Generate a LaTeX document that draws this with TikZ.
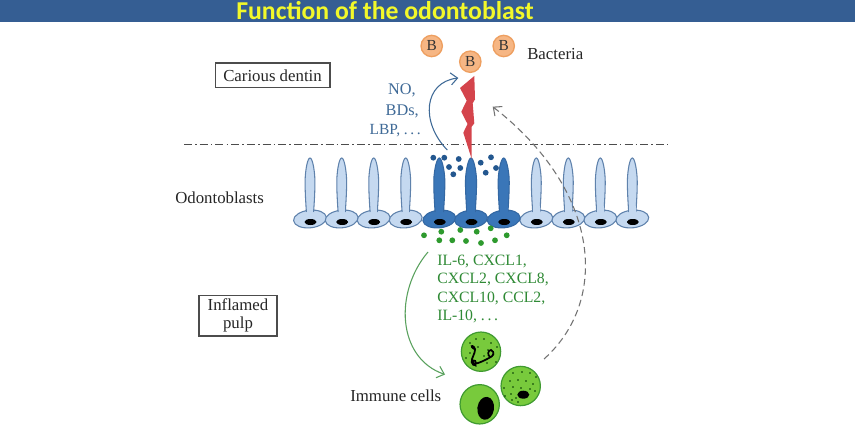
\documentclass[tikz,border=0pt]{standalone}
\usepackage{fontspec}
\setmainfont{Liberation Serif}
\newfontfamily\titlefont{Carlito}
\usetikzlibrary{arrows.meta}
\definecolor{barblue}{HTML}{355E93}
\definecolor{titleyellow}{HTML}{F2F82A}
\definecolor{lightcell}{HTML}{C5D9F0}
\definecolor{lightedge}{HTML}{5F82AC}
\definecolor{darkcell}{HTML}{3A76B8}
\definecolor{darkedge}{HTML}{3468A3}
\definecolor{navydot}{HTML}{23578F}
\definecolor{greendot}{HTML}{2E9A2E}
\definecolor{bluetext}{HTML}{3F6A97}
\definecolor{greentext}{HTML}{2F8A35}
\definecolor{bactfill}{HTML}{F6B684}
\definecolor{bactedge}{HTML}{EE9F60}
\definecolor{bolt}{HTML}{D4444C}
\definecolor{immune}{HTML}{78CA3C}
\definecolor{immuneedge}{HTML}{3F9A30}
\tikzset{
  x=0.75pt, y=-0.75pt,
  label text/.style={font=\fontsize{12.6pt}{14pt}\selectfont, text=black!85, inner sep=0pt},
  framed/.style={draw=black!70, line width=1pt, fill=white, align=center,
    font=\fontsize{12.6pt}{13pt}\selectfont, text=black!85, inner sep=0pt},
  bact/.style={circle, draw=bactedge, line width=1pt, fill=bactfill, minimum size=16pt,
    inner sep=0pt, font=\fontsize{11.5pt}{12pt}\selectfont, text=black!80},
  blue label/.style={anchor=north east, text=bluetext, inner sep=0pt},
  curved link/.style={line width=0.8pt, -{Straight Barb[length=5pt,width=9pt,line width=0.8pt]}},
  cellbody/.style={line width=0.8pt},
  immunecell/.style={circle, draw=immuneedge, line width=0.9pt, fill=immune, minimum size=29.5pt, inner sep=0pt},
}
% One odontoblast: slender process above a flattened cell body with its nucleus
\newcommand{\odontoblast}[4]{% x, fill, edge, half width of the process
  \draw[cellbody, draw=#3, fill=#2, rotate around={6:(#1,219)}] (#1,219) ellipse [x radius=16.5, y radius=8.8];
  \draw[cellbody, draw=#3, fill=#2] (#1-#4+1,212)
     .. controls (#1-#4+0.5,205) and (#1-#4-0.5,190) .. (#1-#4-0.3,180)
     .. controls (#1-#4,170) and (#1-2.5,158) .. (#1,158)
     .. controls (#1+2.5,158) and (#1+#4,170) .. (#1+#4+0.3,180)
     .. controls (#1+#4+0.5,190) and (#1+#4-0.5,205) .. (#1+#4-1,212);
  \fill[#2] (#1-#4+1.4,206) rectangle (#1+#4-1.4,213.5);
  \fill[black] (#1+0.5,222) ellipse [x radius=6, y radius=3];
}
\begin{document}
\begin{tikzpicture}
\useasboundingbox (0,0) rectangle (855,431);
\fill[white] (0,0) rectangle (855,431);

% Title band
\fill[barblue] (0,0) rectangle (855,22);
\begin{scope}
\clip (0,0) rectangle (855,431);
\node[font=\titlefont\bfseries\fontsize{19.3pt}{20pt}\selectfont, text=titleyellow, inner sep=0pt, anchor=base] (title) at (385,20) {Function of the odontoblast};
\end{scope}

% Boundary between dentin and pulp
\coordinate (lineL) at (184,144.5);
\coordinate (lineR) at (668,144.5);
\draw[black!70, line width=1pt, dash pattern=on 6pt off 2.3pt on 1.2pt off 2.3pt] (lineL) -- (lineR);

% Side labels
\node[framed, minimum width=86pt, minimum height=18.5pt] (caries) at (272.5,75.5) {Carious dentin};
\node[framed, minimum width=58.5pt, minimum height=30.5pt] (pulp) at (238,315.5) {Inflamed\\pulp};
\node[label text, anchor=west] (odonto) at (175,198) {Odontoblasts};
\node[label text, anchor=west] (immunelabel) at (350,396) {Immune cells};
\node[label text, anchor=west] (bactlabel) at (527,54) {Bacteria};

% Bacteria
\node[bact] (b1) at (431.7,46) {B};
\node[bact] (b2) at (503.7,46) {B};
\node[bact] (b3) at (470.3,61.7) {B};

% Odontoblast row
\foreach \px in {632.3,600.3,568.3,536.3}
  {\odontoblast{\px}{lightcell}{lightedge}{4.6}}
\foreach \px in {310,341.7,373.7,405.7}
  {\odontoblast{\px}{lightcell}{lightedge}{4.6}}
\foreach \px in {439.3,471,503.7}
  {\odontoblast{\px}{darkcell}{darkedge}{5.2}}

% Lightning bolt striking the central cell
\fill[bolt] (474.3,76) -- (460,88) -- (466.7,100.7) -- (461.3,111.7) -- (467.5,124) -- (463.3,132.7)
  -- (471.7,159) -- (471.7,126.7) -- (474.3,123.3) -- (472.7,103.3) -- (475,99.3) -- cycle;

% Secreted antimicrobial molecules
\foreach \dx/\dy in {433.3/157.7,444.3/157.7,458.7/159,449/167,460.3/168,453.3/174.3,480.7/162.7,491/157.3,496/168,485.7/172.7}
  \fill[navydot] (\dx,\dy) circle [radius=2.9];

% Secreted cytokines
\foreach \dx/\dy in {424/235.3,441.3/231.7,460.3/230,476.7/231.7,490.7/228.3,506.7/235.3,439.3/240.3,452.3/240.3,466/241,481/243,495/240.3}
  \fill[greendot] (\dx,\dy) circle [radius=2.9];

% Mediator lists
\node[blue label, font=\fontsize{12.2pt}{14pt}\selectfont] (nolabel) at (416,83) {NO,};
\node[blue label, font=\fontsize{12.2pt}{14pt}\selectfont] (bdlabel) at (419,105) {BDs,};
\node[blue label, font=\fontsize{11.6pt}{14pt}\selectfont] (lbplabel) at (421,124) {LBP, .\,.\,.};
\node[anchor=north west, align=left, text=greentext, font=\fontsize{11.8pt}{13.9pt}\selectfont, inner sep=0pt] (greenlist) at (437,254.5)
  {IL-6, CXCL1,\\CXCL2, CXCL8,\\CXCL10, CCL2,\\IL-10, .\,.\,.};

% Immune cells
\node[immunecell] (cellA) at (481,351.7) {};
\node[immunecell] (cellB) at (520.7,386) {};
\node[immunecell] (cellC) at (479.7,404.3) {};
\foreach \dx/\dy in {470/343,476/339,484/339,491/343,497/347,470/353,488/350,493/355,478/347,484/356,496/362,476/366,487/363,466/358}
  \fill[black!80!green] (\dx,\dy) circle [radius=0.9];
\draw[black, line width=1.3pt, line cap=round] (474,349) .. controls (470,346) and (472,345) .. (474,347)
   .. controls (477,349) and (473,356) .. (472,359) .. controls (470,364) and (476,368) .. (476,363)
   .. controls (476,359) and (470,360) .. (474,364) .. controls (480,363) and (485,360) .. (489,358)
   .. controls (494,356) and (495,352) .. (491,350) .. controls (488,350) and (487,355) .. (490,357);
\foreach \dx/\dy in {513/373,522/372,530/373,536/377,510/381,518/380,526/381,533/384,504/388,513/387,521/388,505/396,511/394,516/398,512/400,518/402,535/391,530/389}
  \fill[black!80!green] (\dx,\dy) circle [radius=0.9];
\fill[black] (523.3,394.7) ellipse [x radius=6, y radius=4];
\fill[black, rotate around={-8:(485.7,408.3)}] (485.7,408.3) ellipse [x radius=8.3, y radius=11.5];

% Signalling pathways
\coordinate (blueFrom) at (447.3,150);
\coordinate (blueTo) at (458.3,78);
\draw[curved link, draw=bluetext] (blueFrom) .. controls (420,122) and (424,82) .. (blueTo);
\coordinate (greenFrom) at (428,252);
\coordinate (greenTo) at (445,374.5);
\draw[curved link, draw=greentext!80!white] (greenFrom) .. controls (394,292) and (397,358) .. (greenTo);
\coordinate (greyFrom) at (544,359);
\coordinate (greyTo) at (492.7,106.7);
\draw[curved link, draw=black!55, dash pattern=on 5pt off 3pt] (greyFrom) .. controls (610,300) and (600,190) .. (greyTo);
\end{tikzpicture}
\end{document}
